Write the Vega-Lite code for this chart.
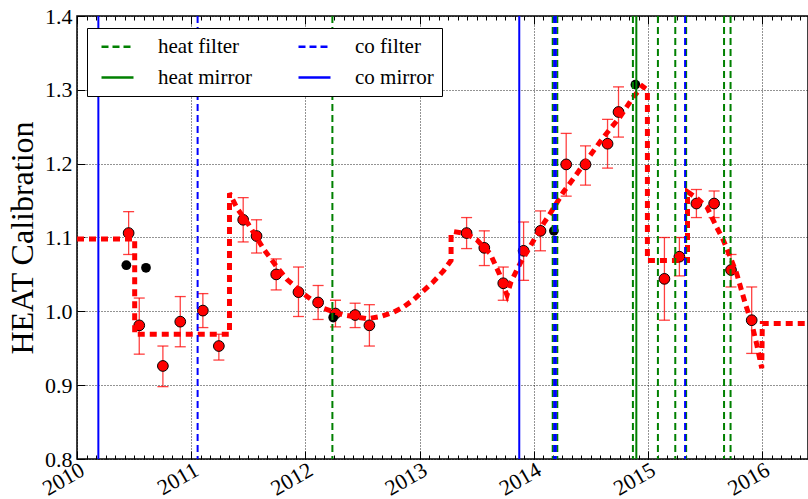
{
  "$schema": "https://vega.github.io/schema/vega-lite/v6.json",
  "width": 731,
  "height": 443,
  "autosize": {"type": "none"},
  "padding": {"left": 77, "top": 16, "right": 0, "bottom": 40},
  "background": "white",
  "config": {
    "view": {"stroke": "black", "strokeWidth": 1.5},
    "font": "Liberation Serif, DejaVu Serif, serif"
  },
  "datasets": {
    "pts": [
      {"x": 2010.452, "y": 1.106, "lo": 1.077, "hi": 1.135},
      {"x": 2010.545, "y": 0.981, "lo": 0.942, "hi": 1.018},
      {"x": 2010.752, "y": 0.926, "lo": 0.898, "hi": 0.953},
      {"x": 2010.904, "y": 0.986, "lo": 0.952, "hi": 1.020},
      {"x": 2011.102, "y": 1.001, "lo": 0.978, "hi": 1.024},
      {"x": 2011.242, "y": 0.953, "lo": 0.934, "hi": 0.969},
      {"x": 2011.455, "y": 1.124, "lo": 1.094, "hi": 1.154},
      {"x": 2011.572, "y": 1.102, "lo": 1.079, "hi": 1.124},
      {"x": 2011.744, "y": 1.050, "lo": 1.029, "hi": 1.071},
      {"x": 2011.939, "y": 1.026, "lo": 0.993, "hi": 1.060},
      {"x": 2012.111, "y": 1.012, "lo": 0.989, "hi": 1.035},
      {"x": 2012.263, "y": 0.997, "lo": 0.979, "hi": 1.015},
      {"x": 2012.435, "y": 0.995, "lo": 0.978, "hi": 1.011},
      {"x": 2012.560, "y": 0.981, "lo": 0.953, "hi": 1.009},
      {"x": 2013.411, "y": 1.106, "lo": 1.085, "hi": 1.127},
      {"x": 2013.566, "y": 1.086, "lo": 1.062, "hi": 1.109},
      {"x": 2013.732, "y": 1.038, "lo": 1.015, "hi": 1.060},
      {"x": 2013.910, "y": 1.082, "lo": 1.042, "hi": 1.121},
      {"x": 2014.058, "y": 1.109, "lo": 1.082, "hi": 1.136},
      {"x": 2014.283, "y": 1.199, "lo": 1.156, "hi": 1.241},
      {"x": 2014.452, "y": 1.199, "lo": 1.171, "hi": 1.224},
      {"x": 2014.645, "y": 1.227, "lo": 1.194, "hi": 1.260},
      {"x": 2014.741, "y": 1.270, "lo": 1.236, "hi": 1.304},
      {"x": 2015.143, "y": 1.044, "lo": 0.988, "hi": 1.100},
      {"x": 2015.274, "y": 1.074, "lo": 1.048, "hi": 1.100},
      {"x": 2015.423, "y": 1.146, "lo": 1.127, "hi": 1.165},
      {"x": 2015.578, "y": 1.146, "lo": 1.127, "hi": 1.163},
      {"x": 2015.726, "y": 1.056, "lo": 1.033, "hi": 1.077},
      {"x": 2015.907, "y": 0.988, "lo": 0.943, "hi": 1.033}
    ],
    "blk": [
      {"x": 2010.432, "y": 1.0625},
      {"x": 2010.604, "y": 1.059},
      {"x": 2012.243, "y": 0.9916},
      {"x": 2014.175, "y": 1.109},
      {"x": 2014.889, "y": 1.307}
    ],
    "model": [
      {"i": 1, "x": 2010.0, "y": 1.098},
      {"i": 2, "x": 2010.505, "y": 1.098},
      {"i": 3, "x": 2010.505, "y": 0.969},
      {"i": 4, "x": 2011.335, "y": 0.969},
      {"i": 5, "x": 2011.335, "y": 1.160},
      {"i": 6, "x": 2011.40, "y": 1.140},
      {"i": 7, "x": 2011.50, "y": 1.118},
      {"i": 8, "x": 2011.636, "y": 1.084},
      {"i": 9, "x": 2011.75, "y": 1.060},
      {"i": 10, "x": 2011.84, "y": 1.043},
      {"i": 11, "x": 2012.015, "y": 1.020},
      {"i": 12, "x": 2012.16, "y": 1.004},
      {"i": 13, "x": 2012.335, "y": 0.995},
      {"i": 14, "x": 2012.54, "y": 0.990},
      {"i": 15, "x": 2012.656, "y": 0.993},
      {"i": 16, "x": 2012.773, "y": 0.999},
      {"i": 17, "x": 2012.86, "y": 1.006},
      {"i": 18, "x": 2012.948, "y": 1.016},
      {"i": 19, "x": 2013.006, "y": 1.024},
      {"i": 20, "x": 2013.12, "y": 1.040},
      {"i": 21, "x": 2013.21, "y": 1.055},
      {"i": 22, "x": 2013.275, "y": 1.069},
      {"i": 23, "x": 2013.275, "y": 1.105},
      {"i": 24, "x": 2013.30, "y": 1.108},
      {"i": 25, "x": 2013.41, "y": 1.105},
      {"i": 26, "x": 2013.50, "y": 1.097},
      {"i": 27, "x": 2013.618, "y": 1.078},
      {"i": 28, "x": 2013.70, "y": 1.050},
      {"i": 29, "x": 2013.745, "y": 1.030},
      {"i": 30, "x": 2013.765, "y": 1.022},
      {"i": 31, "x": 2013.80, "y": 1.040},
      {"i": 32, "x": 2013.88, "y": 1.065},
      {"i": 33, "x": 2013.968, "y": 1.088},
      {"i": 34, "x": 2014.085, "y": 1.119},
      {"i": 35, "x": 2014.143, "y": 1.1325},
      {"i": 36, "x": 2014.26, "y": 1.162},
      {"i": 37, "x": 2014.347, "y": 1.180},
      {"i": 38, "x": 2014.464, "y": 1.205},
      {"i": 39, "x": 2014.61, "y": 1.236},
      {"i": 40, "x": 2014.755, "y": 1.2635},
      {"i": 41, "x": 2014.872, "y": 1.2906},
      {"i": 42, "x": 2014.95, "y": 1.305},
      {"i": 43, "x": 2014.994, "y": 1.300},
      {"i": 44, "x": 2014.994, "y": 1.069},
      {"i": 45, "x": 2015.345, "y": 1.069},
      {"i": 46, "x": 2015.345, "y": 1.162},
      {"i": 47, "x": 2015.42, "y": 1.154},
      {"i": 48, "x": 2015.514, "y": 1.1415},
      {"i": 49, "x": 2015.60, "y": 1.114},
      {"i": 50, "x": 2015.66, "y": 1.096},
      {"i": 51, "x": 2015.718, "y": 1.074},
      {"i": 52, "x": 2015.776, "y": 1.051},
      {"i": 53, "x": 2015.85, "y": 1.011},
      {"i": 54, "x": 2015.907, "y": 0.984},
      {"i": 55, "x": 2015.95, "y": 0.956},
      {"i": 56, "x": 2015.995, "y": 0.923},
      {"i": 57, "x": 2016.0, "y": 0.9835},
      {"i": 58, "x": 2016.4, "y": 0.9835}
    ],
    "vlines": [
      {"x": 2012.236, "kind": "heat filter"},
      {"x": 2014.165, "kind": "heat filter"},
      {"x": 2014.205, "kind": "heat filter"},
      {"x": 2014.867, "kind": "heat filter"},
      {"x": 2015.086, "kind": "heat filter"},
      {"x": 2015.238, "kind": "heat filter"},
      {"x": 2015.333, "kind": "heat filter"},
      {"x": 2015.665, "kind": "heat filter"},
      {"x": 2015.722, "kind": "heat filter"},
      {"x": 2014.897, "kind": "heat mirror"},
      {"x": 2011.056, "kind": "co filter"},
      {"x": 2014.178, "kind": "co filter"},
      {"x": 2014.192, "kind": "co filter"},
      {"x": 2015.324, "kind": "co filter"},
      {"x": 2010.187, "kind": "co mirror"},
      {"x": 2013.872, "kind": "co mirror"}
    ]
  },
  "layer": [
    {
      "data": {"name": "pts"},
      "mark": {"type": "errorbar", "ticks": {"size": 11}, "color": "#ff0000", "opacity": 0.75, "thickness": 1.3},
      "encoding": {
        "x": {"field": "x", "type": "quantitative", "scale": {"domain": [2010, 2016.4], "nice": false, "zero": false},
              "axis": {"orient": "top", "values": [2010, 2011, 2012, 2013, 2014, 2015, 2016], "ticks": true, "tickSize": -8, "tickColor": "black", "tickWidth": 1, "labels": false, "domain": false, "grid": false, "title": null}},
        "y": {"field": "lo", "type": "quantitative", "scale": {"domain": [0.8, 1.4], "nice": false, "zero": false}, "axis": null},
        "y2": {"field": "hi"}
      }
    },
    {
      "data": {"name": "pts"},
      "mark": {"type": "circle", "fill": "#ff0000", "stroke": "black", "strokeWidth": 1, "opacity": 1, "size": 115},
      "encoding": {
        "x": {"field": "x", "type": "quantitative", "scale": {"domain": [2010, 2016.4], "nice": false, "zero": false},
              "axis": {"orient": "bottom", "values": [2010, 2011, 2012, 2013, 2014, 2015, 2016], "format": "d", "labelAngle": -30, "labelAlign": "right", "labelBaseline": "top", "labelFontSize": 22, "labelFont": "Liberation Serif", "labelColor": "black", "labelPadding": 0, "labelFlush": false, "labelOverlap": false, "labelBound": false, "ticks": false, "domain": false, "grid": true, "gridColor": "black", "gridDash": [1, 2], "gridWidth": 1, "gridOpacity": 0.85, "title": null}},
        "y": {"field": "y", "type": "quantitative", "scale": {"domain": [0.8, 1.4], "nice": false, "zero": false},
              "axis": {"orient": "left", "values": [0.8, 0.9, 1.0, 1.1, 1.2, 1.3, 1.4], "format": ".1f", "labelFontSize": 22, "labelFont": "Liberation Serif", "labelColor": "black", "labelPadding": 5, "labelFlush": false, "labelOverlap": false, "ticks": false, "domain": false, "grid": true, "gridColor": "black", "gridDash": [1, 2], "gridWidth": 1, "gridOpacity": 0.85,
                       "title": "HEAT Calibration", "titleFont": "Liberation Serif", "titleFontSize": 32, "titleFontWeight": "normal", "titleColor": "black", "titleX": -45, "titleBaseline": "alphabetic", "titleAngle": 270, "titleAlign": "center"}}
      }
    },
    {
      "data": {"name": "blk"},
      "mark": {"type": "circle", "fill": "black", "opacity": 1, "size": 95},
      "encoding": {
        "x": {"field": "x", "type": "quantitative", "scale": {"domain": [2010, 2016.4], "nice": false, "zero": false},
              "axis": {"orient": "bottom", "values": [2010, 2011, 2012, 2013, 2014, 2015, 2016], "ticks": true, "tickSize": -8, "tickColor": "black", "tickWidth": 1, "labels": false, "domain": false, "grid": false, "title": null}},
        "y": {"field": "y", "type": "quantitative", "scale": {"domain": [0.8, 1.4], "nice": false, "zero": false},
              "axis": {"orient": "left", "values": [0.8, 0.9, 1.0, 1.1, 1.2, 1.3, 1.4], "ticks": true, "tickSize": -8, "tickColor": "black", "tickWidth": 1, "labels": false, "domain": false, "grid": false, "title": null}}
      }
    },
    {
      "data": {"name": "model"},
      "mark": {"type": "line", "color": "#ff0000", "strokeWidth": 5, "strokeDash": [7, 5]},
      "encoding": {
        "x": {"field": "x", "type": "quantitative", "scale": {"domain": [2010, 2016.4], "nice": false, "zero": false},
              "axis": {"orient": "bottom", "values": [2010, 2010.0833, 2010.1667, 2010.25, 2010.3333, 2010.4167, 2010.5, 2010.5833, 2010.6667, 2010.75, 2010.8333, 2010.9167, 2011, 2011.0833, 2011.1667, 2011.25, 2011.3333, 2011.4167, 2011.5, 2011.5833, 2011.6667, 2011.75, 2011.8333, 2011.9167, 2012, 2012.0833, 2012.1667, 2012.25, 2012.3333, 2012.4167, 2012.5, 2012.5833, 2012.6667, 2012.75, 2012.8333, 2012.9167, 2013, 2013.0833, 2013.1667, 2013.25, 2013.3333, 2013.4167, 2013.5, 2013.5833, 2013.6667, 2013.75, 2013.8333, 2013.9167, 2014, 2014.0833, 2014.1667, 2014.25, 2014.3333, 2014.4167, 2014.5, 2014.5833, 2014.6667, 2014.75, 2014.8333, 2014.9167, 2015, 2015.0833, 2015.1667, 2015.25, 2015.3333, 2015.4167, 2015.5, 2015.5833, 2015.6667, 2015.75, 2015.8333, 2015.9167, 2016, 2016.0833, 2016.1667, 2016.25, 2016.3333], "ticks": true, "tickSize": -4, "tickColor": "black", "tickWidth": 1, "labels": false, "domain": false, "grid": false, "title": null}},
        "y": {"field": "y", "type": "quantitative", "scale": {"domain": [0.8, 1.4], "nice": false, "zero": false}, "axis": null},
        "order": {"field": "i", "type": "quantitative"}
      }
    },
    {
      "data": {"name": "vlines"},
      "mark": {"type": "rule", "strokeWidth": 2},
      "encoding": {
        "x": {"field": "x", "type": "quantitative", "scale": {"domain": [2010, 2016.4], "nice": false, "zero": false},
              "axis": {"orient": "top", "values": [2010, 2010.0833, 2010.1667, 2010.25, 2010.3333, 2010.4167, 2010.5, 2010.5833, 2010.6667, 2010.75, 2010.8333, 2010.9167, 2011, 2011.0833, 2011.1667, 2011.25, 2011.3333, 2011.4167, 2011.5, 2011.5833, 2011.6667, 2011.75, 2011.8333, 2011.9167, 2012, 2012.0833, 2012.1667, 2012.25, 2012.3333, 2012.4167, 2012.5, 2012.5833, 2012.6667, 2012.75, 2012.8333, 2012.9167, 2013, 2013.0833, 2013.1667, 2013.25, 2013.3333, 2013.4167, 2013.5, 2013.5833, 2013.6667, 2013.75, 2013.8333, 2013.9167, 2014, 2014.0833, 2014.1667, 2014.25, 2014.3333, 2014.4167, 2014.5, 2014.5833, 2014.6667, 2014.75, 2014.8333, 2014.9167, 2015, 2015.0833, 2015.1667, 2015.25, 2015.3333, 2015.4167, 2015.5, 2015.5833, 2015.6667, 2015.75, 2015.8333, 2015.9167, 2016, 2016.0833, 2016.1667, 2016.25, 2016.3333], "ticks": true, "tickSize": -4, "tickColor": "black", "tickWidth": 1, "labels": false, "domain": false, "grid": false, "title": null}},
        "color": {"field": "kind", "type": "nominal",
                  "scale": {"domain": ["heat filter", "heat mirror", "co filter", "co mirror"], "range": ["#008000", "#008000", "#0000ff", "#0000ff"]},
                  "legend": {"orient": "none", "legendX": 10, "legendY": 12, "columns": 2, "title": null, "symbolType": "M-2,0H2", "symbolSize": 256, "symbolStrokeWidth": 2.5, "symbolFillColor": "transparent", "symbolOffset": 12, "labelFontSize": 21, "labelFont": "Liberation Serif", "labelColor": "black", "labelOffset": 30, "columnPadding": 40, "rowPadding": 9, "padding": 8, "strokeColor": "black", "fillColor": "white", "cornerRadius": 0, "labelLimit": 300}},
        "strokeDash": {"field": "kind", "type": "nominal",
                  "scale": {"domain": ["heat filter", "heat mirror", "co filter", "co mirror"], "range": [[7, 4], [1, 0], [7, 4], [1, 0]]},
                  "legend": {"orient": "none", "legendX": 10, "legendY": 12, "columns": 2, "title": null, "symbolType": "M-2,0H2", "symbolSize": 256, "symbolStrokeWidth": 2.5, "symbolFillColor": "transparent", "symbolOffset": 12, "labelFontSize": 21, "labelFont": "Liberation Serif", "labelColor": "black", "labelOffset": 30, "columnPadding": 40, "rowPadding": 9, "padding": 8, "strokeColor": "black", "fillColor": "white", "cornerRadius": 0, "labelLimit": 300}}
      }
    }
  ],
  "resolve": {"axis": {"x": "independent", "y": "independent"}}
}
